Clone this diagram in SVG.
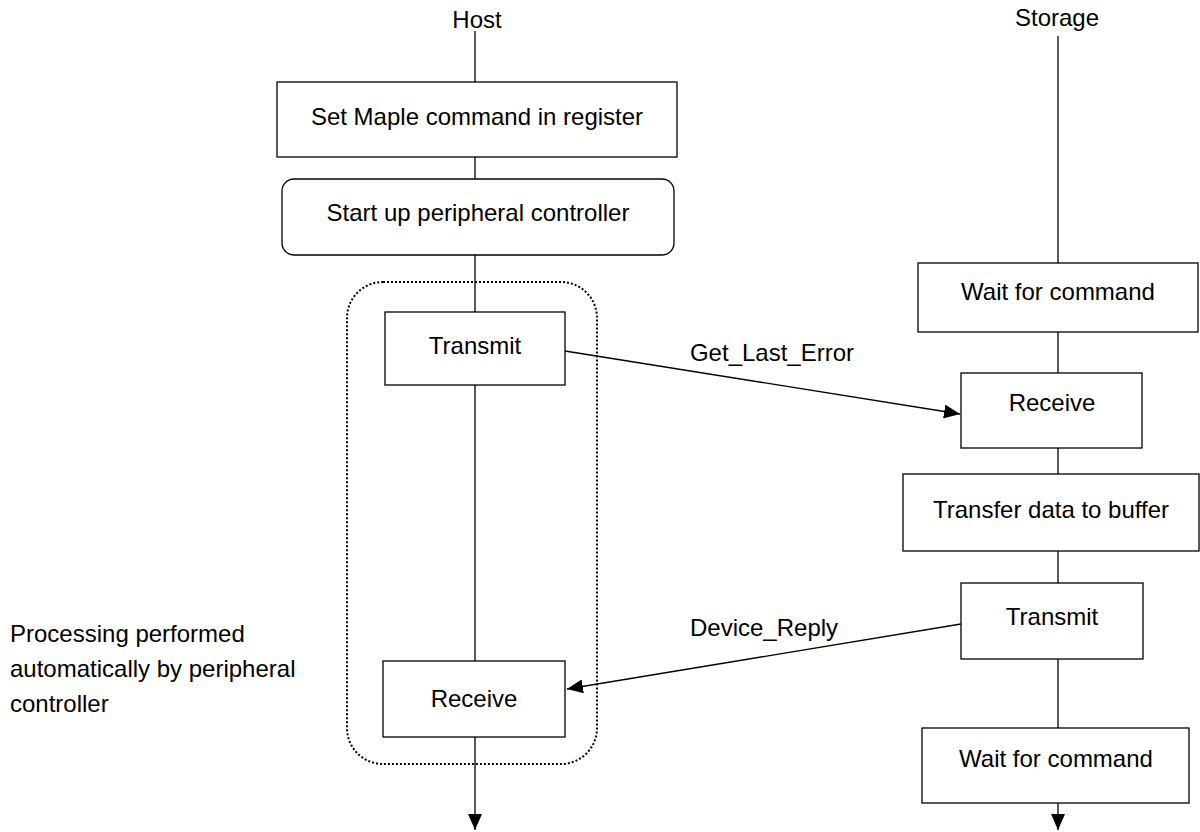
<svg xmlns="http://www.w3.org/2000/svg" width="1200" height="832" viewBox="0 0 1200 832">
<style>
text{font-family:"Liberation Sans",Arial,sans-serif;font-size:24px;fill:#000}
.c{text-anchor:middle}
.box{fill:#fff;stroke:#000;stroke-width:1.3}
.ln{stroke:#000;stroke-width:1.3;fill:none}
.dot{fill:none;stroke:#000;stroke-width:2;stroke-dasharray:2 2}
</style>
<defs>
<marker id="ah" viewBox="0 0 16 14" refX="16" refY="7" markerWidth="16" markerHeight="14" markerUnits="userSpaceOnUse" orient="auto">
<path d="M0,0 L16,7 L0,14 Z" fill="#000"/>
</marker>
</defs>
<rect width="1200" height="832" fill="#fff"/>
<g id="connectors">
<line class="ln" x1="475" y1="31" x2="475" y2="82"/>
<line class="ln" x1="475" y1="157" x2="475" y2="179"/>
<line class="ln" x1="475" y1="255" x2="475" y2="312"/>
<line class="ln" x1="475" y1="385" x2="475" y2="661"/>
<line class="ln" x1="475" y1="737" x2="475" y2="830" marker-end="url(#ah)"/>
<line class="ln" x1="1058" y1="36" x2="1058" y2="263"/>
<line class="ln" x1="1058" y1="332" x2="1058" y2="373"/>
<line class="ln" x1="1058" y1="448" x2="1058" y2="474"/>
<line class="ln" x1="1058" y1="551" x2="1058" y2="583"/>
<line class="ln" x1="1058" y1="659" x2="1058" y2="728"/>
<line class="ln" x1="1058" y1="803" x2="1058" y2="830" marker-end="url(#ah)"/>
<line class="ln" x1="565" y1="351" x2="960" y2="414" marker-end="url(#ah)"/>
<line class="ln" x1="961" y1="624" x2="567" y2="689" marker-end="url(#ah)"/>
<text class="c" x="772" y="361">Get_Last_Error</text>
<text x="690" y="636">Device_Reply</text>
</g>
<g id="host-label"><text class="c" x="477" y="28">Host</text></g>
<g id="storage-label"><text class="c" x="1057" y="26">Storage</text></g>
<g id="auto-group"><rect class="dot" x="347" y="282" width="250" height="482" rx="36" ry="36"/></g>
<g id="set-maple"><rect class="box" x="277" y="82" width="400" height="75"/><text class="c" x="477" y="125">Set Maple command in register</text></g>
<g id="startup"><rect class="box" x="282" y="179" width="392" height="76" rx="12" ry="12"/><text class="c" x="478" y="221">Start up peripheral controller</text></g>
<g id="host-transmit"><rect class="box" x="385" y="312" width="180" height="73"/><text class="c" x="475" y="354">Transmit</text></g>
<g id="host-receive"><rect class="box" x="383" y="661" width="182" height="76"/><text class="c" x="474" y="707">Receive</text></g>
<g id="wait1"><rect class="box" x="918" y="263" width="280" height="69"/><text class="c" x="1058" y="300">Wait for command</text></g>
<g id="storage-receive"><rect class="box" x="961" y="373" width="181" height="75"/><text class="c" x="1052" y="411">Receive</text></g>
<g id="transfer"><rect class="box" x="903" y="474" width="296" height="77"/><text class="c" x="1051" y="518">Transfer data to buffer</text></g>
<g id="storage-transmit"><rect class="box" x="961" y="583" width="182" height="76"/><text class="c" x="1052" y="625">Transmit</text></g>
<g id="wait2"><rect class="box" x="922" y="728" width="267" height="75"/><text class="c" x="1056" y="767">Wait for command</text></g>
<g id="note">
<text x="10" y="642">Processing performed</text>
<text x="10" y="677">automatically by peripheral</text>
<text x="10" y="712">controller</text>
</g>
</svg>
